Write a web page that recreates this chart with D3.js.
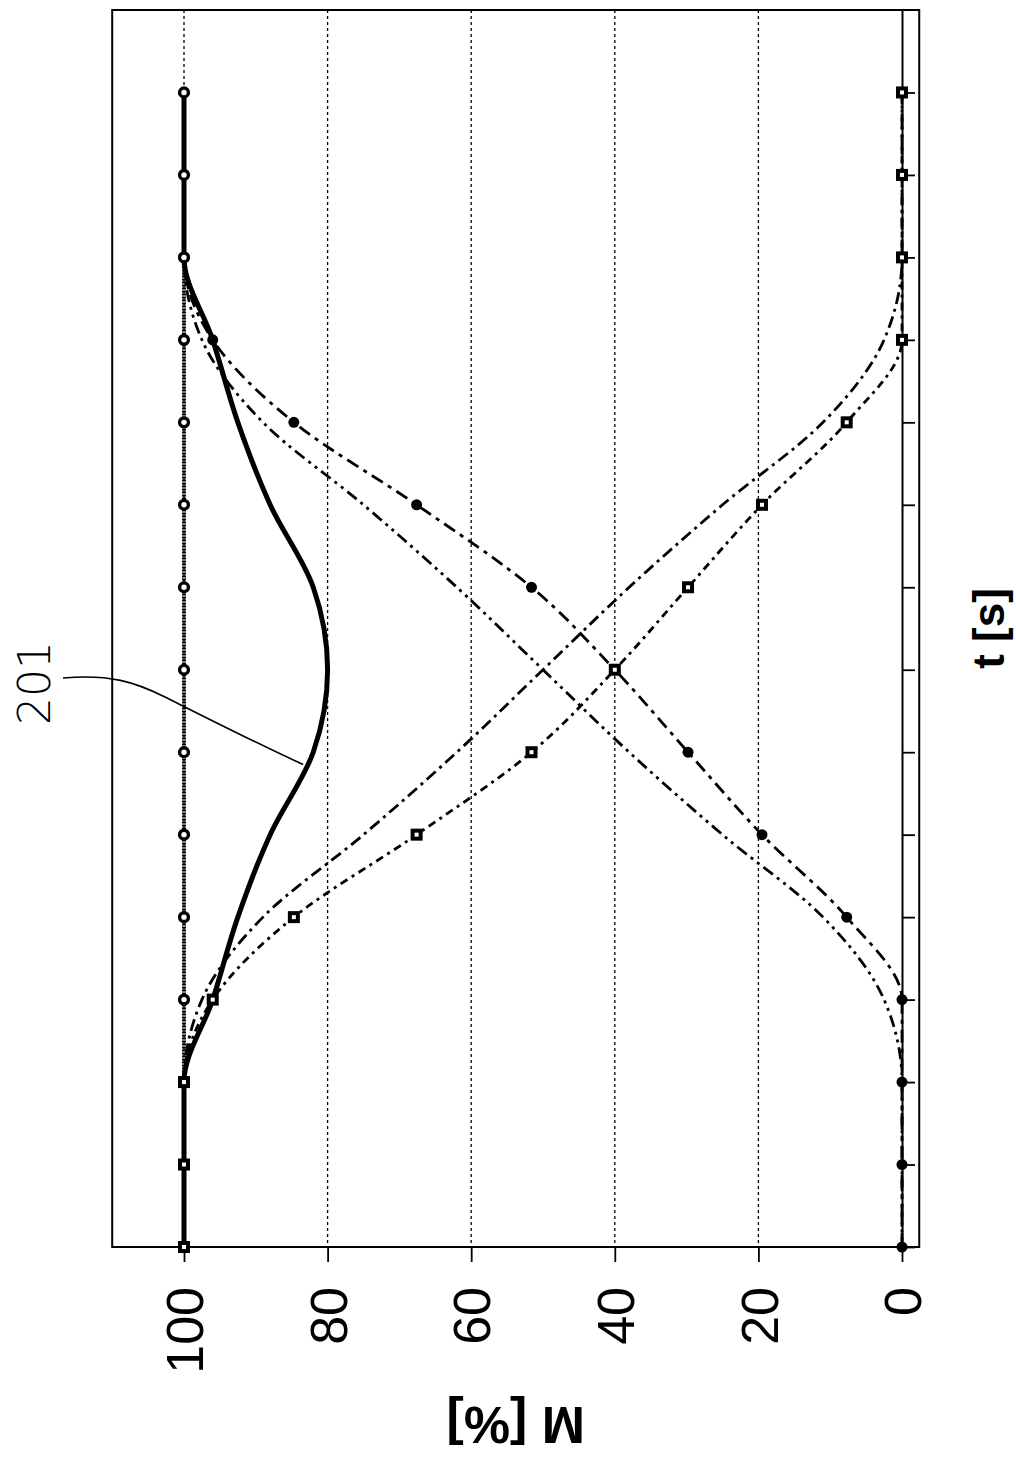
<!DOCTYPE html>
<html>
<head>
<meta charset="utf-8">
<script src="https://cdn.jsdelivr.net/npm/d3@7"></script>
<style>
  html, body { margin: 0; padding: 0; background: #fff; }
  svg { display: block; }
</style>
</head>
<body>
<script>
// Time steps t [s]
const tValues = [0, 1, 2, 3, 4, 5, 6, 7, 8, 9, 10, 11, 12, 13, 14];
// Tick values on the M axis
const mTicks = [0, 20, 40, 60, 80, 100];
const mTickLabels = ["0", "20", "40", "60", "80", "100"];

// Series M [%] at each time step
const constantM  = [100, 100, 100, 100, 100, 100, 100, 100, 100, 100, 100, 100, 100, 100, 100];
const squareM    = [100, 100, 100, 96, 84.7, 67.6, 51.6, 40, 29.8, 19.5, 7.7, 0, 0, 0, 0];
const dotM       = [0, 0, 0, 0, 7.7, 19.5, 29.8, 40, 51.6, 67.6, 84.7, 96, 100, 100, 100];
const dashDecM   = [100, 100, 100, 97.5, 89, 75, 62, 50, 38, 25, 11, 2.5, 0, 0, 0];
const dashIncM   = [0, 0, 0, 2.5, 11, 25, 38, 50, 62, 75, 89, 97.5, 100, 100, 100];
const totalM     = [100, 100, 100, 96, 92.5, 88, 82, 80, 82, 88, 92.5, 96, 100, 100, 100];

const refLabel = "201";

const W = 1016, H = 1464;
const svg = d3.select("body").append("svg").attr("width", W).attr("height", H);
svg.append("rect").attr("width", W).attr("height", H).attr("fill", "#fff");

// The chart is laid out turned on its side: M runs horizontally (100 left, 0 right),
// t runs vertically (0 at bottom).
const x = d3.scaleLinear().domain([0, 100]).range([902, 184]);
const y = d3.scaleLinear().domain([0, 15]).range([1247, 10]);
const mMin = -2.4, mMax = 110;

// Gridlines
const grid = svg.append("g");
[20, 40, 60, 80, 100].forEach(m => {
  grid.append("line")
    .attr("x1", x(m)).attr("x2", x(m))
    .attr("y1", y(15)).attr("y2", y(0))
    .attr("stroke", "#000").attr("stroke-width", 1.3)
    .attr("stroke-dasharray", "3,3");
});

// Frame
svg.append("rect")
  .attr("x", x(mMax)).attr("y", y(15))
  .attr("width", x(mMin) - x(mMax)).attr("height", y(0) - y(15))
  .attr("fill", "none").attr("stroke", "#000").attr("stroke-width", 2);

// M axis (bottom) with rotated labels
const axM = svg.append("g").attr("transform", `translate(0,${y(0)})`)
  .call(d3.axisBottom(x).tickValues(mTicks).tickSize(15).tickSizeOuter(0)
    .tickFormat((d, i) => mTickLabels[i]));
axM.select(".domain").remove();
axM.selectAll(".tick line").attr("stroke", "#000").attr("stroke-width", 1.8);
axM.selectAll(".tick text")
  .attr("x", 0).attr("y", 0).attr("dy", "0.36em")
  .attr("transform", "translate(0,40) rotate(-90)")
  .attr("text-anchor", "end")
  .attr("font-family", "'Liberation Sans', Arial, sans-serif")
  .attr("font-size", 52).attr("fill", "#000");

// t axis (right side, at M = 0)
const axT = svg.append("g").attr("transform", `translate(${x(0)},0)`)
  .call(d3.axisRight(y).tickValues(tValues).tickSize(13).tickSizeOuter(0).tickFormat(""));
axT.select(".domain").attr("stroke", "#000").attr("stroke-width", 2);
axT.selectAll(".tick line").attr("stroke", "#000").attr("stroke-width", 1.8);

// Axis titles
svg.append("text")
  .attr("transform", `translate(${(x(mMax) + x(mMin)) / 2},1425) rotate(180)`)
  .attr("text-anchor", "middle").attr("dominant-baseline", "central")
  .attr("font-family", "'Liberation Sans', Arial, sans-serif")
  .attr("font-weight", "bold").attr("font-size", 52)
  .text("M [%]");
svg.append("text")
  .attr("transform", `translate(988,${(y(0) + y(15)) / 2}) rotate(-90)`)
  .attr("text-anchor", "middle").attr("dominant-baseline", "central")
  .attr("font-family", "'Liberation Sans', Arial, sans-serif")
  .attr("font-weight", "bold").attr("font-size", 44)
  .text("t [s]");

// Series lines
const mk = arr => tValues.map((t, i) => ({ t, m: arr[i] })).reverse();
const line = d3.line().x(d => x(d.m)).y(d => y(d.t)).curve(d3.curveMonotoneY);

const series = [
  { data: constantM, width: 4,   dash: "2,1" },
  { data: dashDecM,  width: 2.8, dash: "12,5,3,5" },
  { data: dashIncM,  width: 2.8, dash: "12,5,3,5,3,5" },
  { data: squareM,   width: 2.8, dash: "8,5,3,5" },
  { data: dotM,      width: 2.8, dash: "13,6,4,6" },
  { data: totalM,    width: 5,   dash: null }
];
series.forEach(s => {
  const p = svg.append("path").datum(mk(s.data))
    .attr("d", line).attr("fill", "none")
    .attr("stroke", "#000").attr("stroke-width", s.width)
    .attr("stroke-linecap", "butt");
  if (s.dash) p.attr("stroke-dasharray", s.dash);
});

// Markers
svg.append("g").selectAll("circle").data(mk(dotM)).join("circle")
  .attr("cx", d => x(d.m)).attr("cy", d => y(d.t)).attr("r", 5.5).attr("fill", "#000");
svg.append("g").selectAll("circle").data(mk(constantM)).join("circle")
  .attr("cx", d => x(d.m)).attr("cy", d => y(d.t)).attr("r", 4.4)
  .attr("fill", "#fff").attr("stroke", "#000").attr("stroke-width", 3.4);
svg.append("g").selectAll("rect").data(mk(squareM)).join("rect")
  .attr("x", d => x(d.m) - 4).attr("y", d => y(d.t) - 4)
  .attr("width", 8).attr("height", 8)
  .attr("fill", "#fff").attr("stroke", "#000").attr("stroke-width", 4);

// Reference numeral with leader to the total curve
const leadEnd = [x(83.4), y(5.85)];
const leadStart = [63, 678];
svg.append("path")
  .attr("d", `M${leadStart[0]},${leadStart[1]} C110,674 135,682 165,697 S260,745 ${leadEnd[0]},${leadEnd[1]}`)
  .attr("fill", "none").attr("stroke", "#000").attr("stroke-width", 1.6);
svg.append("text")
  .attr("transform", "translate(50,683) rotate(-90)")
  .attr("text-anchor", "middle")
  .attr("font-family", "'DejaVu Sans', sans-serif")
  .attr("font-weight", "300").attr("font-size", 44)
  .text(refLabel);
</script>
</body>
</html>
